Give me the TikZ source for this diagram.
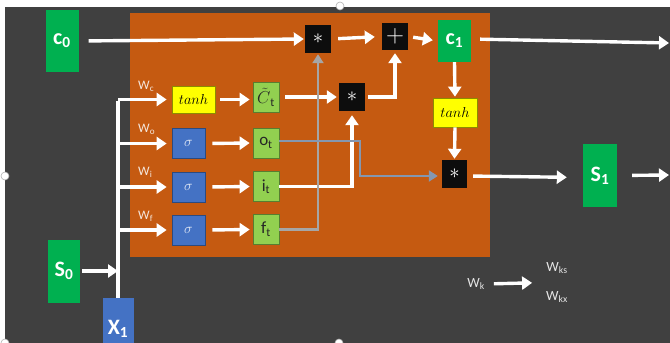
\documentclass[tikz,border=0pt]{standalone}
\usepackage{fontspec}
\setmainfont{Carlito}
\usetikzlibrary{arrows.meta,calc}
\definecolor{bgdark}{HTML}{404040}
\definecolor{orng}{HTML}{C55A11}
\definecolor{gbig}{HTML}{00B050}
\definecolor{glight}{HTML}{92D050}
\definecolor{bluebox}{HTML}{4472C4}
\definecolor{yel}{HTML}{FFFF00}
\definecolor{blk}{HTML}{0D0D0D}
\definecolor{grayline}{HTML}{A6A6A6}
\definecolor{bgline}{HTML}{8497B0}
\definecolor{wlab}{HTML}{F4E6DC}
\definecolor{legtxt}{HTML}{E6E6E6}
\begin{document}
\begin{tikzpicture}[x=1pt,y=-1pt,
  bigbox/.style={fill=gbig, draw=none, inner sep=0pt, text=white,
    font=\fontsize{22}{22}\selectfont\bfseries},
  xbox/.style={fill=bluebox, draw=none, inner sep=0pt, text=white,
    font=\fontsize{22}{22}\selectfont\bfseries},
  gatebox/.style={fill=glight, draw=glight!60!black, line width=0.7pt, inner sep=0pt,
    minimum width=26pt, minimum height=30pt, text=black!85,
    font=\fontsize{17}{17}\selectfont},
  sigbox/.style={fill=bluebox, draw=bluebox!65!black, line width=0.7pt, inner sep=0pt,
    minimum width=33pt, minimum height=30pt, text=white!85!bluebox,
    font=\fontsize{15}{15}\selectfont},
  tanhbox/.style={fill=yel, draw=yel!55!black, line width=0.7pt, inner sep=0pt,
    minimum width=43pt, minimum height=27pt, text=black,
    font=\fontsize{15}{15}\selectfont},
  opbox/.style={fill=blk, draw=none, inner sep=0pt,
    minimum width=26pt, minimum height=28pt, text=white,
    font=\fontsize{20}{20}\selectfont},
  wlabel/.style={text=wlab, inner sep=0pt, anchor=west,
    font=\fontsize{13}{13}\selectfont},
  leglabel/.style={text=legtxt, inner sep=0pt,
    font=\fontsize{14}{14}\selectfont},
  arr/.style={draw=white, line width=3.4pt,
    -{Triangle[length=10pt,width=13pt]}},
  wline/.style={draw=white, line width=3.4pt},
  grayarr/.style={draw=grayline, line width=2.8pt,
    -{Triangle[length=9pt,width=11pt]}},
  bgarr/.style={draw=bgline, line width=2.8pt,
    -{Triangle[length=9pt,width=11pt]}},
  handle/.style={circle, fill=white, draw=gray!60, line width=0.6pt,
    minimum size=8pt, inner sep=0pt}
]
\useasboundingbox (0,0) rectangle (670,343);
\fill[white] (0,0) rectangle (670,343);
\fill[bgdark] (5,7) rectangle (670,343);
\fill[orng] (130,13) rectangle (490,257);

% nodes
\node[bigbox, minimum width=33pt, minimum height=62pt] (c0) at (62,41) {c\textsubscript{0}};
\node[bigbox, minimum width=32pt, minimum height=63pt] (s0) at (64,271) {S\textsubscript{0}};
\node[xbox, minimum width=31pt, minimum height=45pt] (x1) at (118,320.5) {\raisebox{-14pt}[0pt][0pt]{X\textsubscript{1}}};

\node[tanhbox] (th1) at (193.5,99.5) {$tanh$};
\node[sigbox] (so) at (188.5,143.5) {$\sigma$};
\node[sigbox] (si) at (188.5,187) {$\sigma$};
\node[sigbox] (sf) at (188.5,230) {$\sigma$};

\node[gatebox] (ct) at (266,97) {$\tilde{C}$\textsubscript{t}};
\node[gatebox] (ot) at (266,143) {o\textsubscript{t}};
\node[gatebox] (it) at (266,186.5) {i\textsubscript{t}};
\node[gatebox] (ft) at (266,229.5) {f\textsubscript{t}};

\node[opbox] (m1) at (318,39) {$\ast$};
\node[opbox, minimum height=27pt, font=\fontsize{26}{26}\selectfont] (pl) at (395,36.5) {$+$};
\node[opbox] (m2) at (352,97) {$\ast$};
\node[bigbox, minimum width=33pt, minimum height=42pt] (c1) at (454.5,41) {c\textsubscript{1}};
\node[tanhbox, minimum width=44pt, minimum height=29pt] (th2) at (455,112.5) {$tanh$};
\node[opbox, minimum width=25pt] (m3) at (454.5,174) {$\ast$};
\node[bigbox, minimum width=34pt, minimum height=63pt] (s1) at (600,175.5) {S\textsubscript{1}};

% W labels
\node[wlabel] (wc) at (138,86) {W\textsubscript{c}};
\node[wlabel] (wo) at (138,129) {W\textsubscript{o}};
\node[wlabel] (wi) at (138,172) {W\textsubscript{i}};
\node[wlabel] (wf) at (138,216) {W\textsubscript{f}};

% legend
\node[leglabel] (wk) at (476,284) {W\textsubscript{k}};
\node[leglabel] (wks) at (557,268) {W\textsubscript{ks}};
\node[leglabel] (wkx) at (557,297) {W\textsubscript{kx}};

\coordinate (c1out) at (669,43);
\coordinate (s1out) at (669,175);
\coordinate (ob) at (360,160);

% white connectors
\draw[arr, shorten <=10pt, shorten >=1pt] (c0.east) -- (m1.west);
\draw[arr, shorten <=7pt, shorten >=7pt] (m1.east) -- (pl.west);
\draw[arr, shorten <=5pt, shorten >=5pt] (pl.east) -- (c1.west);
\draw[arr, shorten <=9pt] ([yshift=2pt]c1.east) -- (c1out);
\draw[arr, shorten >=1pt] (c1.south) -- (th2.north);
\draw[arr, shorten >=1pt] (th2.south) -- (m3.north);
\draw[arr, shorten <=6pt, shorten >=16pt] ([yshift=-2pt]m3.east) -- ([yshift=-2pt]s1.west);
\draw[arr, shorten <=15pt] (s1.east) -- (s1out);

\draw[arr, shorten <=2pt, shorten >=0pt] (s0.east) -- (x1.north |- s0.east);
\draw[wline] (x1.north) -- ([yshift=-1.7pt]x1.north |- th1.west);
\draw[arr, shorten >=5pt] (x1.north |- th1.west) -- (th1.west);
\draw[arr, shorten >=5pt] (x1.north |- so.west) -- (so.west);
\draw[arr, shorten >=5pt] (x1.north |- si.west) -- (si.west);
\draw[arr, shorten >=5pt] (x1.north |- sf.west) -- (sf.west);

\draw[arr, shorten <=5pt, shorten >=3pt] (th1.east) -- (th1.east -| ct.west);
\draw[arr, shorten <=7pt, shorten >=3pt] (so.east) -- (ot.west);
\draw[arr, shorten <=7pt, shorten >=3pt] (si.east) -- (it.west);
\draw[arr, shorten <=7pt, shorten >=3pt] (sf.east) -- (ft.west);

\draw[arr, shorten <=6pt, shorten >=2pt] (ct.east) -- (m2.west);
\draw[arr, shorten <=3pt, shorten >=3pt] (m2.east) -| (pl.south);
\draw[arr, shorten >=4pt] (it.east) -| (m2.south);

% gray connectors
\draw[grayarr, shorten >=1pt] (ft.east) -| (m1.south);
\draw[bgarr, shorten >=4pt] ([yshift=2pt]ot.east) -| (ob) |- ([yshift=-2pt]m3.west);

% legend arrow
\draw[arr, shorten <=9pt, shorten >=14pt] (wk.east) -- ($(wks.west)!0.5!(wkx.west)$);

% selection handles
\node[handle] (h1) at (340,6) {};
\node[handle] (h2) at (5,176) {};
\node[handle] (h3) at (5,343) {};
\node[handle] (h4) at (339,343) {};
\end{tikzpicture}
\end{document}
